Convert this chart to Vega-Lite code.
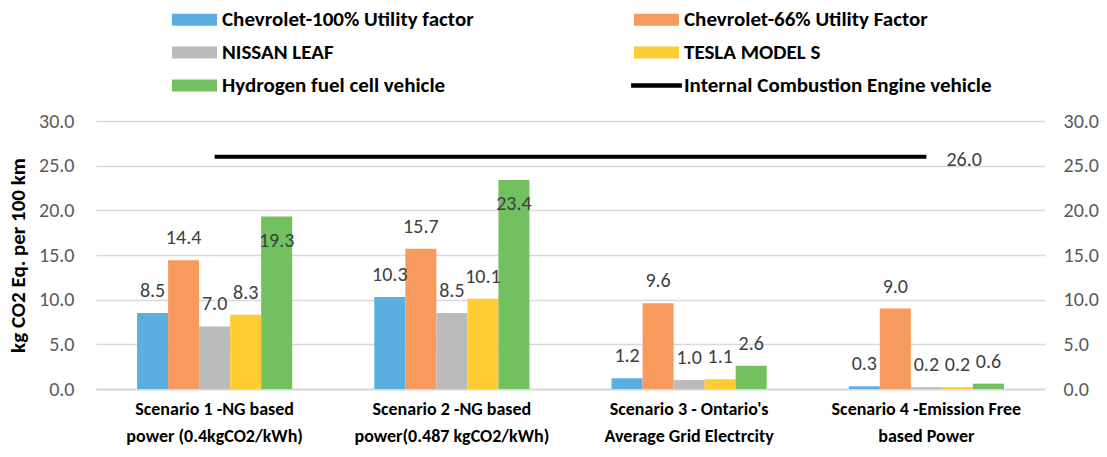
{
  "$schema": "https://vega.github.io/schema/vega-lite/v6.json",
  "width": 949,
  "height": 268,
  "autosize": {"type": "none"},
  "padding": {"left": 96, "top": 121, "right": 62, "bottom": 68},
  "background": "white",
  "config": {"view": {"stroke": null}, "font": "Carlito, Lato"},
  "datasets": {
    "bars": [
      {"scenario": "Scenario 1 -NG based\npower (0.4kgCO2/kWh)", "series": "Chevrolet-100% Utility factor", "value": 8.5},
      {"scenario": "Scenario 1 -NG based\npower (0.4kgCO2/kWh)", "series": "Chevrolet-66% Utility Factor", "value": 14.4},
      {"scenario": "Scenario 1 -NG based\npower (0.4kgCO2/kWh)", "series": "NISSAN LEAF", "value": 7.0},
      {"scenario": "Scenario 1 -NG based\npower (0.4kgCO2/kWh)", "series": "TESLA MODEL S", "value": 8.3},
      {"scenario": "Scenario 1 -NG based\npower (0.4kgCO2/kWh)", "series": "Hydrogen fuel cell vehicle", "value": 19.3},
      {"scenario": "Scenario 2 -NG based\npower(0.487 kgCO2/kWh)", "series": "Chevrolet-100% Utility factor", "value": 10.3},
      {"scenario": "Scenario 2 -NG based\npower(0.487 kgCO2/kWh)", "series": "Chevrolet-66% Utility Factor", "value": 15.7},
      {"scenario": "Scenario 2 -NG based\npower(0.487 kgCO2/kWh)", "series": "NISSAN LEAF", "value": 8.5},
      {"scenario": "Scenario 2 -NG based\npower(0.487 kgCO2/kWh)", "series": "TESLA MODEL S", "value": 10.1},
      {"scenario": "Scenario 2 -NG based\npower(0.487 kgCO2/kWh)", "series": "Hydrogen fuel cell vehicle", "value": 23.4},
      {"scenario": "Scenario 3 - Ontario's\nAverage Grid Electrcity", "series": "Chevrolet-100% Utility factor", "value": 1.2},
      {"scenario": "Scenario 3 - Ontario's\nAverage Grid Electrcity", "series": "Chevrolet-66% Utility Factor", "value": 9.6},
      {"scenario": "Scenario 3 - Ontario's\nAverage Grid Electrcity", "series": "NISSAN LEAF", "value": 1.0},
      {"scenario": "Scenario 3 - Ontario's\nAverage Grid Electrcity", "series": "TESLA MODEL S", "value": 1.1},
      {"scenario": "Scenario 3 - Ontario's\nAverage Grid Electrcity", "series": "Hydrogen fuel cell vehicle", "value": 2.6},
      {"scenario": "Scenario 4 -Emission Free\nbased Power", "series": "Chevrolet-100% Utility factor", "value": 0.3},
      {"scenario": "Scenario 4 -Emission Free\nbased Power", "series": "Chevrolet-66% Utility Factor", "value": 9.0},
      {"scenario": "Scenario 4 -Emission Free\nbased Power", "series": "NISSAN LEAF", "value": 0.2},
      {"scenario": "Scenario 4 -Emission Free\nbased Power", "series": "TESLA MODEL S", "value": 0.2},
      {"scenario": "Scenario 4 -Emission Free\nbased Power", "series": "Hydrogen fuel cell vehicle", "value": 0.6}
    ],
    "ice": [
      {"scenario": "Scenario 1 -NG based\npower (0.4kgCO2/kWh)", "series": "Internal Combustion Engine vehicle", "value": 26.0},
      {"scenario": "Scenario 2 -NG based\npower(0.487 kgCO2/kWh)", "series": "Internal Combustion Engine vehicle", "value": 26.0},
      {"scenario": "Scenario 3 - Ontario's\nAverage Grid Electrcity", "series": "Internal Combustion Engine vehicle", "value": 26.0},
      {"scenario": "Scenario 4 -Emission Free\nbased Power", "series": "Internal Combustion Engine vehicle", "value": 26.0}
    ]
  },
  "layer": [
    {
      "data": {"name": "bars"},
      "encoding": {
        "x": {
          "field": "scenario", "type": "nominal", "sort": null,
          "scale": {"paddingInner": 0.346, "paddingOuter": 0.173},
          "axis": {
            "title": null, "labelAngle": 0, "labelLimit": 400,
            "labelExpr": "split(datum.label, '\\n')",
            "labelFontSize": 18, "labelFontWeight": "bold",
            "labelColor": "black", "labelPadding": 11, "labelLineHeight": 27,
            "ticks": false, "domainColor": "#D9D9D9", "domainWidth": 2, "grid": false
          }
        },
        "xOffset": {
          "field": "series", "type": "nominal", "sort": null,
          "scale": {"domain": ["Chevrolet-100% Utility factor", "Chevrolet-66% Utility Factor", "NISSAN LEAF", "TESLA MODEL S", "Hydrogen fuel cell vehicle"], "paddingInner": 0, "paddingOuter": 0}
        },
        "y": {
          "field": "value", "type": "quantitative",
          "scale": {"domain": [0, 30]},
          "axis": {
            "title": "kg CO2 Eq. per 100 km", "titleFontSize": 21,
            "titleFontWeight": "bold", "titleColor": "black", "titlePadding": 10,
            "values": [0, 5, 10, 15, 20, 25, 30], "format": ".1f",
            "labelFontSize": 20, "labelColor": "#595959", "labelPadding": 22,
            "ticks": false, "domain": false, "gridColor": "#D9D9D9", "gridWidth": 1.5
          }
        }
      },
      "layer": [
        {
          "mark": {"type": "bar"},
          "encoding": {
            "color": {
              "field": "series", "type": "nominal",
              "scale": {
                "domain": ["Chevrolet-100% Utility factor", "Chevrolet-66% Utility Factor", "NISSAN LEAF", "TESLA MODEL S", "Hydrogen fuel cell vehicle", "Internal Combustion Engine vehicle"],
                "range": ["#5AAEE0", "#F8995E", "#BBBBBB", "#FFCC33", "#72C060", "#000000"]
              },
              "legend": {
                "title": null, "orient": "none", "legendX": 76, "legendY": -124,
                "direction": "horizontal",
                "columns": 2, "columnPadding": 157, "rowPadding": -3.5,
                "symbolSize": 2025, "symbolType": "M-1,-0.267H1V0.267H-1Z",
                "labelFontSize": 21, "labelFontWeight": "bold",
                "labelColor": "black", "labelLimit": 500, "labelOffset": 5,
                "encode": {
                  "symbols": {
                    "update": {
                      "shape": {"signal": "datum.value == 'Internal Combustion Engine vehicle' ? 'M-1.13,-0.1H1.13V0.1H-1.13Z' : 'M-1,-0.267H1V0.267H-1Z'"},
                      "fill": {"scale": "color", "field": "value"},
                      "strokeWidth": {"value": 0}
                    }
                  }
                }
              }
            }
          }
        },
        {
          "transform": [{"filter": "datum.value < 19"}],
          "mark": {"type": "text", "baseline": "middle", "dy": -22, "fontSize": 20, "color": "#404040"},
          "encoding": {"text": {"field": "value", "type": "quantitative", "format": ".1f"}}
        },
        {
          "transform": [{"filter": "datum.value >= 19"}],
          "mark": {"type": "text", "baseline": "middle", "dy": 24, "fontSize": 20, "color": "#404040"},
          "encoding": {"text": {"field": "value", "type": "quantitative", "format": ".1f"}}
        }
      ]
    },
    {
      "data": {"name": "ice"},
      "encoding": {
        "x": {"field": "scenario", "type": "nominal", "sort": null},
        "y": {
          "field": "value", "type": "quantitative",
          "scale": {"domain": [0, 30]},
          "axis": {
            "orient": "right", "title": null, "values": [0, 5, 10, 15, 20, 25, 30], "format": ".1f",
            "labelFontSize": 20, "labelColor": "#595959", "labelPadding": 18,
            "ticks": false, "domain": false, "grid": false
          }
        }
      },
      "layer": [
        {
          "mark": {"type": "line", "strokeWidth": 4},
          "encoding": {"color": {"field": "series", "type": "nominal"}}
        },
        {
          "transform": [{"filter": "indexof(datum.scenario, 'Scenario 4') == 0"}],
          "mark": {"type": "text", "align": "left", "baseline": "middle", "dx": 20, "dy": 3, "fontSize": 20, "color": "#404040"},
          "encoding": {"text": {"field": "value", "type": "quantitative", "format": ".1f"}}
        }
      ]
    }
  ],
  "resolve": {"scale": {"y": "independent"}}
}
